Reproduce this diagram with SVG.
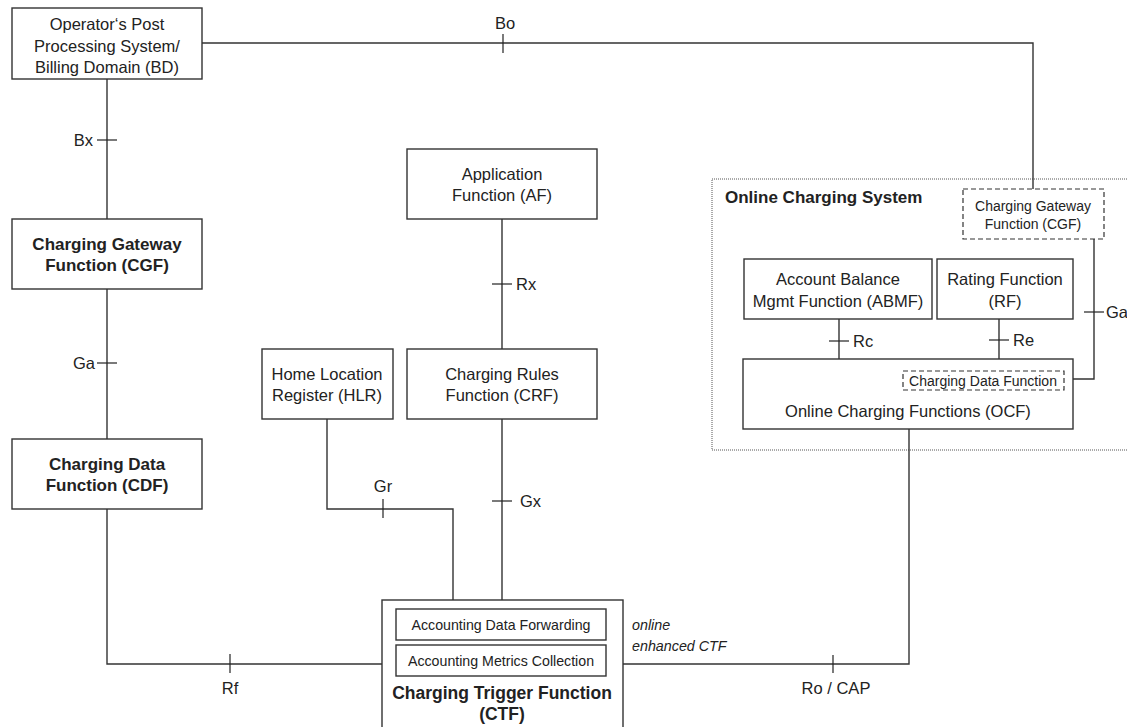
<svg xmlns="http://www.w3.org/2000/svg" width="1127" height="727" viewBox="0 0 1127 727">
  <style>
    .box { fill: #fff; stroke: #333; stroke-width: 1.4; }
    .dash { fill: none; stroke: #333; stroke-width: 1.2; stroke-dasharray: 5 3; }
    .dot { fill: none; stroke: #555; stroke-width: 1; stroke-dasharray: 1 1; }
    .line { fill: none; stroke: #333; stroke-width: 1.4; }
    .tick { stroke: #222; stroke-width: 1.2; }
    text { font-family: "Liberation Sans", Arial, sans-serif; fill: #222; font-size: 16.5px; }
    .c { text-anchor: middle; }
    .b { font-weight: bold; font-size: 17px; }
    .s { font-size: 14.2px; }
    .xs { font-size: 14px; }
    .i { font-style: italic; font-size: 14.3px; }
  </style>

  <!-- Online Charging System boundary -->
  <g id="ocs">
    <rect class="dot" x="712" y="179" width="420" height="271"/>
    <text class="b" x="725" y="203">Online Charging System</text>
  </g>

  <!-- connectors -->
  <g id="connectors">
    <!-- Bo: BD to OCS CGF -->
    <polyline class="line" points="202,43 1033,43 1033,189"/>
    <line class="tick" x1="503" y1="34" x2="503" y2="53"/>
    <!-- Bx -->
    <line class="line" x1="107" y1="79" x2="107" y2="219"/>
    <line class="tick" x1="97" y1="140" x2="117" y2="140"/>
    <!-- Ga -->
    <line class="line" x1="107" y1="289" x2="107" y2="439"/>
    <line class="tick" x1="97" y1="363" x2="117" y2="363"/>
    <!-- Rf -->
    <polyline class="line" points="107,509 107,664 383,664"/>
    <line class="tick" x1="230" y1="654" x2="230" y2="673"/>
    <!-- Gr -->
    <polyline class="line" points="327,419 327,509 453,509 453,600"/>
    <line class="tick" x1="383" y1="499" x2="383" y2="518"/>
    <!-- Rx -->
    <line class="line" x1="502" y1="219" x2="502" y2="349"/>
    <line class="tick" x1="492" y1="284" x2="512" y2="284"/>
    <!-- Gx -->
    <line class="line" x1="502" y1="419" x2="502" y2="600"/>
    <line class="tick" x1="492" y1="501" x2="512" y2="501"/>
    <!-- Ro / CAP -->
    <polyline class="line" points="623,664 909,664 909,429"/>
    <line class="tick" x1="833" y1="655" x2="833" y2="673"/>
    <!-- Rc -->
    <line class="line" x1="839" y1="319" x2="839" y2="359"/>
    <line class="tick" x1="829" y1="341" x2="849" y2="341"/>
    <!-- Re -->
    <line class="line" x1="999" y1="319" x2="999" y2="359"/>
    <line class="tick" x1="989" y1="340" x2="1009" y2="340"/>
    <!-- Ga (OCS internal) -->
    <polyline class="line" points="1094,239 1094,379 1064,379"/>
    <line class="tick" x1="1084" y1="312" x2="1104" y2="312"/>

    <text x="505" y="29" class="c">Bo</text>
    <text x="93" y="146" text-anchor="end">Bx</text>
    <text x="95" y="369" text-anchor="end">Ga</text>
    <text x="230" y="694" class="c">Rf</text>
    <text x="383" y="492" class="c">Gr</text>
    <text x="516" y="290">Rx</text>
    <text x="520" y="507">Gx</text>
    <text x="836" y="694" class="c">Ro / CAP</text>
    <text x="853" y="347">Rc</text>
    <text x="1013" y="346">Re</text>
    <text x="1106" y="318">Ga</text>
    <text class="i" x="632" y="630">online</text>
    <text class="i" x="632" y="651">enhanced CTF</text>
  </g>

  <g id="bd">
    <rect class="box" x="12" y="8" width="190" height="71"/>
    <text class="c" x="107" y="30">Operator‘s Post</text>
    <text class="c" x="107" y="52">Processing System/</text>
    <text class="c" x="107" y="73">Billing Domain (BD)</text>
  </g>

  <g id="cgf">
    <rect class="box" x="12" y="219" width="190" height="70"/>
    <text class="c b" x="107" y="250">Charging Gateway</text>
    <text class="c b" x="107" y="271">Function (CGF)</text>
  </g>

  <g id="cdf">
    <rect class="box" x="12" y="439" width="190" height="70"/>
    <text class="c b" x="107" y="470">Charging Data</text>
    <text class="c b" x="107" y="491">Function (CDF)</text>
  </g>

  <g id="af">
    <rect class="box" x="407" y="149" width="190" height="70"/>
    <text class="c" x="502" y="180">Application</text>
    <text class="c" x="502" y="201">Function (AF)</text>
  </g>

  <g id="hlr">
    <rect class="box" x="262" y="349" width="131" height="70"/>
    <text class="c" x="327" y="380">Home Location</text>
    <text class="c" x="327" y="401">Register (HLR)</text>
  </g>

  <g id="crf">
    <rect class="box" x="407" y="349" width="190" height="70"/>
    <text class="c" x="502" y="380">Charging Rules</text>
    <text class="c" x="502" y="401">Function (CRF)</text>
  </g>

  <g id="ctf">
    <rect class="box" x="382" y="600" width="241" height="140"/>
    <rect class="box" x="396" y="609" width="210" height="31"/>
    <text class="c s" x="501" y="630">Accounting Data Forwarding</text>
    <rect class="box" x="396" y="645" width="210" height="31"/>
    <text class="c s" x="501" y="666">Accounting Metrics Collection</text>
    <text class="c b" x="502" y="699" style="font-size:17.5px">Charging Trigger Function</text>
    <text class="c b" x="502" y="720" style="font-size:17.5px">(CTF)</text>
  </g>

  <g id="ocs-cgf">
    <rect class="dash" x="963" y="189" width="141" height="50"/>
    <text class="c xs" x="1033" y="211">Charging Gateway</text>
    <text class="c xs" x="1033" y="229">Function (CGF)</text>
  </g>

  <g id="abmf">
    <rect class="box" x="744" y="259" width="188" height="60"/>
    <text class="c" x="838" y="285">Account Balance</text>
    <text class="c" x="838" y="307">Mgmt Function (ABMF)</text>
  </g>

  <g id="rf">
    <rect class="box" x="937" y="259" width="136" height="60"/>
    <text class="c" x="1005" y="285">Rating Function</text>
    <text class="c" x="1005" y="307">(RF)</text>
  </g>

  <g id="ocf">
    <rect class="box" x="743" y="359" width="330" height="70"/>
    <rect class="dash" x="903" y="371" width="161" height="19"/>
    <text class="c xs" x="983" y="386">Charging Data Function</text>
    <text class="c" x="908" y="417">Online Charging Functions (OCF)</text>
  </g>
</svg>
